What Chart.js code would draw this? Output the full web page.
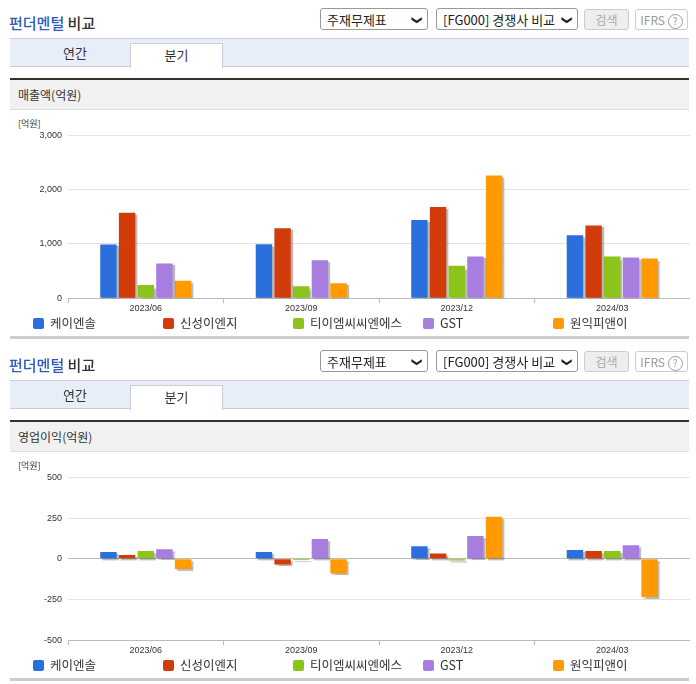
<!DOCTYPE html>
<html><head><meta charset="utf-8">
<script src="https://cdn.jsdelivr.net/npm/chart.js@4"></script>
<style>
body{margin:0;width:696px;height:684px;background:#fff;font-family:"Noto Sans CJK KR","Noto Sans",sans-serif;position:relative;overflow:hidden}
.panel{position:absolute;left:0;width:696px;height:342px}
.title{position:absolute;left:9px;top:12px;font-size:15px;font-weight:500;color:#333}
.title b{color:#2d5cb8;font-weight:500}
.sel{position:absolute;top:8px;height:22px;border:1px solid #999;border-radius:3px;font-size:13px;line-height:22px;padding-left:6px;box-sizing:border-box;color:#222;background:#fff}
.sel span{position:absolute;right:5px;top:0;font-size:10px;transform:rotate(90deg);font-weight:bold}
.btn{position:absolute;top:9px;height:21px;border:1px solid #ccc;border-radius:3px;font-size:12px;line-height:20px;text-align:center;color:#aaa;box-sizing:border-box}
.tabs{position:absolute;left:10px;top:38px;width:679px;height:29px;background:#e7eef8;border-top:1px solid #ccd;border-bottom:1px solid #ccd;box-sizing:border-box}
.tab{position:absolute;top:0;height:28px;width:90px;text-align:center;font-size:13px;line-height:28px;color:#333}
.tab.on{background:#fff;border:1px solid #ccd;border-bottom:none;top:4px;height:24px;line-height:22px;width:91px}
.hdr{position:absolute;left:10px;top:78px;width:679px;height:32px;background:#f1f1f1;border-top:2px solid #333;border-bottom:1px solid #ddd;box-sizing:border-box;font-size:12px;line-height:30px;padding-left:8px;color:#333}
.unit{position:absolute;left:18px;top:117px;font-size:9px;color:#333}
.cw{position:absolute;left:10px;top:124px;width:680px;height:190px}
.legend{position:absolute;top:313px;left:0;font-size:12.5px;color:#333}
.li{position:absolute;white-space:nowrap;top:0}
.li i{display:inline-block;width:11px;height:11px;border-radius:2px;vertical-align:-1px;margin-right:6px}
.bot{position:absolute;left:10px;top:336px;width:679px;height:3px;background:#ccc}
</style></head><body>
<script>
const categories=["2023/06","2023/09","2023/12","2024/03"];
const seriesNames=["케이엔솔","신성이엔지","티이엠씨씨엔에스","GST","원익피앤이"];
const colors=["#2b6fdc","#d23c0b","#8bc41b","#a87de0","#ff9a00"];
const sales_kns=[990,995,1440,1160];
const sales_ssen=[1575,1290,1680,1340];
const sales_temc=[245,220,600,770];
const sales_gst=[640,700,770,750];
const sales_wip=[320,275,2260,730];
const op_kns=[42,42,77,54];
const op_ssen=[23,-35,33,48];
const op_temc=[48,-8,-10,48];
const op_gst=[58,121,140,83];
const op_wip=[-62,-90,258,-235];
const salesTicks={min:0,max:3000,step:1000};
const opTicks={min:-500,max:500,step:250};

function panel(top,hdr,id){
  const p=document.createElement('div');p.className='panel';p.style.top=top+'px';
  let lg='';seriesNames.forEach((n,i)=>{lg+=`<div class="li" style="left:${33+130*i}px"><i style="background:${colors[i]}"></i>${n}</div>`});
  p.innerHTML=`<div class="title"><b>펀더멘털</b> 비교</div>
  <div class="sel" style="left:320px;width:108px">주재무제표<span>&#10095;</span></div>
  <div class="sel" style="left:436px;width:142px">[FG000] 경쟁사 비교<span>&#10095;</span></div>
  <div class="btn" style="left:584px;width:45px;background:#eee">검색</div>
  <div class="btn" style="left:635px;width:53px;color:#999">IFRS <span style="border:1px solid #999;border-radius:50%;display:inline-block;width:13px;height:13px;line-height:12px;font-size:10px">?</span></div>
  <div class="tabs"><div class="tab" style="left:20px">연간</div><div class="tab on" style="left:120px">분기</div></div>
  <div class="hdr">${hdr}</div><div class="unit">[억원]</div>
  <div class="cw"><canvas id="${id}"></canvas></div>
  <div class="legend">${lg}</div><div class="bot"></div>`;
  document.body.appendChild(p);
}
panel(0,'매출액(억원)','c1');
panel(342,'영업이익(억원)','c2');

const shadow={id:'shadow',beforeDatasetsDraw(c){c.ctx.save();c.ctx.shadowColor='rgba(0,0,0,0.28)';c.ctx.shadowOffsetX=2;c.ctx.shadowOffsetY=2;c.ctx.shadowBlur=1;},afterDatasetsDraw(c){c.ctx.restore();}};
function make(id,data,t){
  new Chart(document.getElementById(id),{type:'bar',plugins:[shadow],
    data:{labels:categories,datasets:data.map((d,i)=>({label:seriesNames[i],data:d,backgroundColor:colors[i],barPercentage:0.88,categoryPercentage:0.6}))},
    options:{responsive:true,maintainAspectRatio:false,animation:false,
      layout:{padding:{top:8,right:0}},
      plugins:{legend:{display:false},tooltip:{enabled:false}},
      scales:{
        x:{grid:{offset:true,drawOnChartArea:false,tickLength:5,color:'#bbb'},border:{color:'#bbb'},ticks:{font:{size:9},color:'#333',padding:0}},
        y:{min:t.min,max:t.max,afterFit(a){a.width=58},ticks:{stepSize:t.step,font:{size:9},color:'#333',padding:6,callback:v=>v.toLocaleString('en-US')},
           grid:{color:c=>c.tick.value===0?'#bbb':'#e3e3e3',drawTicks:false},border:{display:false}}
      }}});
}
make('c1',[sales_kns,sales_ssen,sales_temc,sales_gst,sales_wip],salesTicks);
make('c2',[op_kns,op_ssen,op_temc,op_gst,op_wip],opTicks);
</script></body></html>
